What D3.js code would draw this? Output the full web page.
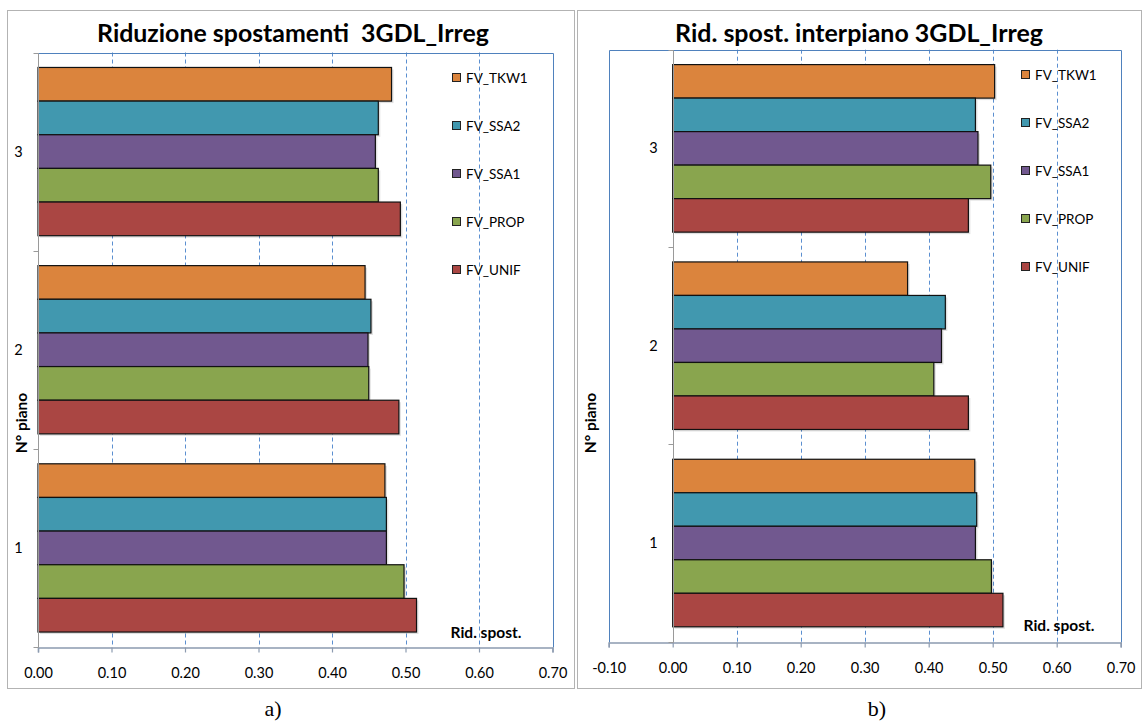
<!DOCTYPE html>
<html>
<head>
<meta charset="utf-8">
<script src="https://cdn.jsdelivr.net/npm/d3@7"></script>
<style>
  html, body { margin: 0; padding: 0; background: #ffffff; }
  svg { display: block; }
  text { font-family: Lato, "Open Sans", "Liberation Sans", sans-serif; fill: #000; }
</style>
</head>
<body>
<svg id="chart" width="1143" height="722"></svg>
<script>
// Floors (top to bottom) and load-pattern series (top to bottom inside each floor group)
const floors = ["3", "2", "1"];
const series = ["FV_TKW1", "FV_SSA2", "FV_SSA1", "FV_PROP", "FV_UNIF"];
const seriesColors = ["#DB843D", "#4198AF", "#71588F", "#89A54E", "#AA4643"];

// Displacement reduction per floor, one array per series, ordered floor 3, 2, 1
const dispTKW1 = [0.481, 0.445, 0.472];
const dispSSA2 = [0.463, 0.453, 0.474];
const dispSSA1 = [0.459, 0.449, 0.474];
const dispPROP = [0.463, 0.450, 0.498];
const dispUNIF = [0.493, 0.491, 0.515];

// Inter-storey drift reduction per floor, ordered floor 3, 2, 1
const driftTKW1 = [0.503, 0.367, 0.472];
const driftSSA2 = [0.473, 0.426, 0.475];
const driftSSA1 = [0.477, 0.420, 0.473];
const driftPROP = [0.497, 0.408, 0.498];
const driftUNIF = [0.462, 0.462, 0.516];

// Tick values of the two value axes
const ticksA = [0.0, 0.1, 0.2, 0.3, 0.4, 0.5, 0.6, 0.7];
const ticksB = [-0.1, 0.0, 0.1, 0.2, 0.3, 0.4, 0.5, 0.6, 0.7];

const svg = d3.select("#chart");
// two decimals, plain hyphen for negatives
const fmt = v => d3.format(".2f")(v).replace("\u2212", "-");

function drawPanel(cfg) {
  const g = svg.append("g");
  const values = [cfg.tkw1, cfg.ssa2, cfg.ssa1, cfg.prop, cfg.unif];

  // outer frame of the chart
  g.append("rect")
    .attr("x", cfg.frame[0] + 0.5).attr("y", cfg.frame[1] + 0.5)
    .attr("width", cfg.frame[2] - cfg.frame[0]).attr("height", cfg.frame[3] - cfg.frame[1])
    .attr("fill", "#fff").attr("stroke", "#b3b3b3").attr("stroke-width", 1);

  const x = d3.scaleLinear().domain(cfg.domain).range([cfg.left, cfg.right]);
  const p = 0.151;
  const y = d3.scaleBand().domain(floors).range([cfg.top, cfg.bottom])
    .paddingInner(p).paddingOuter(p / 2);
  const ys = d3.scaleBand().domain(series).range([0, y.bandwidth()]);

  // dashed vertical gridlines
  g.append("g").selectAll("line")
    .data(cfg.ticks.filter(t => t > 0.001 && t < cfg.domain[1] - 0.001))
    .join("line")
    .attr("x1", d => Math.round(x(d)) + 0.5).attr("x2", d => Math.round(x(d)) + 0.5)
    .attr("y1", cfg.top).attr("y2", cfg.bottom)
    .attr("stroke", "#5b8fd0").attr("stroke-width", 1).attr("stroke-dasharray", "4,3");

  // plot area border (blue) on top / right / left
  const bx0 = Math.round(x(cfg.domain[0])) + 0.5, bx1 = Math.round(x(cfg.domain[1])) + 0.5;
  const by0 = Math.round(cfg.top) + 0.5, by1 = Math.round(cfg.bottom) + 0.5;
  g.append("path")
    .attr("d", `M${bx0},${by1}V${by0}H${bx1}V${by1}`)
    .attr("fill", "none").attr("stroke", "#4f81bd").attr("stroke-width", 1);

  // bars, with a faint drop shadow
  floors.forEach((f, fi) => {
    series.forEach((s, si) => {
      const v = values[si][fi];
      const x0 = x(0), x1 = x(v);
      const yy = y(f) + ys(s);
      g.append("rect")
        .attr("x", x0 + 2).attr("y", yy + 2)
        .attr("width", x1 - x0).attr("height", ys.bandwidth())
        .attr("fill", "#000").attr("opacity", 0.12);
    });
  });
  floors.forEach((f, fi) => {
    series.forEach((s, si) => {
      const v = values[si][fi];
      const x0 = x(0), x1 = x(v);
      g.append("rect")
        .attr("x", x0).attr("y", y(f) + ys(s))
        .attr("width", x1 - x0).attr("height", ys.bandwidth())
        .attr("fill", seriesColors[si])
        .attr("stroke", "#111").attr("stroke-width", 1.2);
    });
  });

  // value axis at the bottom
  const xAxis = d3.axisBottom(x).tickValues(cfg.ticks).tickFormat(fmt)
    .tickSize(5).tickPadding(15);
  const gx = g.append("g").attr("transform", `translate(0,${by1})`).call(xAxis);
  gx.select(".domain").attr("stroke", "#8c9bb0").attr("stroke-width", 1.5);
  gx.selectAll(".tick line").attr("stroke", "#8c9bb0").attr("stroke-width", 1.2);
  gx.selectAll(".tick text")
    .style("font-family", "Lato, 'Open Sans', sans-serif")
    .style("font-size", "14.5px").attr("fill", "#000");

  // category axis at value 0
  const ax0 = Math.round(x(0)) + 0.5;
  g.append("line")
    .attr("x1", ax0).attr("x2", ax0).attr("y1", by0).attr("y2", by1)
    .attr("stroke", "#9a9a9a").attr("stroke-width", 1);
  const bounds = [cfg.top].concat(floors.map(f => y(f) + y.bandwidth() + y.step() * p / 2));
  g.append("g").selectAll("line").data(bounds).join("line")
    .attr("x1", ax0 - 5).attr("x2", ax0)
    .attr("y1", d => Math.round(d) + 0.5).attr("y2", d => Math.round(d) + 0.5)
    .attr("stroke", "#9a9a9a");
  g.append("g").selectAll("text").data(floors).join("text")
    .attr("x", ax0 - 20).attr("y", d => y(d) + y.bandwidth() / 2 + 5)
    .attr("text-anchor", "middle").style("font-size", "14.5px")
    .text(d => d);

  // axis titles
  g.append("text")
    .attr("transform", `translate(${cfg.yTitleX},${cfg.yTitleY}) rotate(-90)`)
    .attr("text-anchor", "middle").style("font-weight", "bold").style("font-size", "15.5px")
    .text("N° piano");
  g.append("text")
    .attr("x", cfg.xTitleX).attr("y", cfg.xTitleY)
    .attr("text-anchor", "middle").style("font-weight", "bold").style("font-size", "15.5px")
    .text("Rid. spost.");

  // legend
  const lg = g.append("g").selectAll("g").data(series).join("g")
    .attr("transform", (d, i) => `translate(${cfg.legX},${cfg.legY + i * 48})`);
  lg.append("rect").attr("x", 0.5).attr("y", -4.5).attr("width", 8).attr("height", 8)
    .attr("fill", (d, i) => seriesColors[i]).attr("stroke", "#222").attr("stroke-width", 1);
  lg.append("text").attr("x", 14).attr("y", 4.5).style("font-size", "13.5px").text(d => d);

  // chart title, sized to its span
  const title = g.append("text")
    .attr("x", cfg.titleX).attr("y", 42)
    .attr("text-anchor", "middle")
    .style("font-weight", "bold").style("font-size", "23px").style("white-space", "pre")
    .text(cfg.title);
  const w = title.node().getComputedTextLength();
  title.style("font-size", (23 * cfg.titleW / w).toFixed(2) + "px");

  // panel caption below the frame
  svg.append("text")
    .attr("x", cfg.capX).attr("y", 716)
    .attr("text-anchor", "middle")
    .style("font-family", "'Liberation Serif', 'DejaVu Serif', serif")
    .style("font-size", "22px")
    .text(cfg.caption);
}

drawPanel({
  frame: [7, 10, 574, 688],
  domain: [0, 0.7], ticks: ticksA,
  left: 38, right: 552.5, top: 52.5, bottom: 647,
  tkw1: dispTKW1, ssa2: dispSSA2, ssa1: dispSSA1, prop: dispPROP, unif: dispUNIF,
  title: "Riduzione spostamenti  3GDL_Irreg", titleX: 293, titleW: 392,
  legX: 452, legY: 78,
  yTitleX: 27, yTitleY: 423,
  xTitleX: 486, xTitleY: 638,
  caption: "a)", capX: 273
});

drawPanel({
  frame: [577, 10, 1141, 688],
  domain: [-0.1, 0.7], ticks: ticksB,
  left: 608.7, right: 1120.7, top: 49.7, bottom: 641.7,
  tkw1: driftTKW1, ssa2: driftSSA2, ssa1: driftSSA1, prop: driftPROP, unif: driftUNIF,
  title: "Rid. spost. interpiano 3GDL_Irreg", titleX: 859, titleW: 368,
  legX: 1021, legY: 75,
  yTitleX: 596, yTitleY: 423,
  xTitleX: 1059, xTitleY: 631,
  caption: "b)", capX: 877
});
</script>
</body>
</html>
